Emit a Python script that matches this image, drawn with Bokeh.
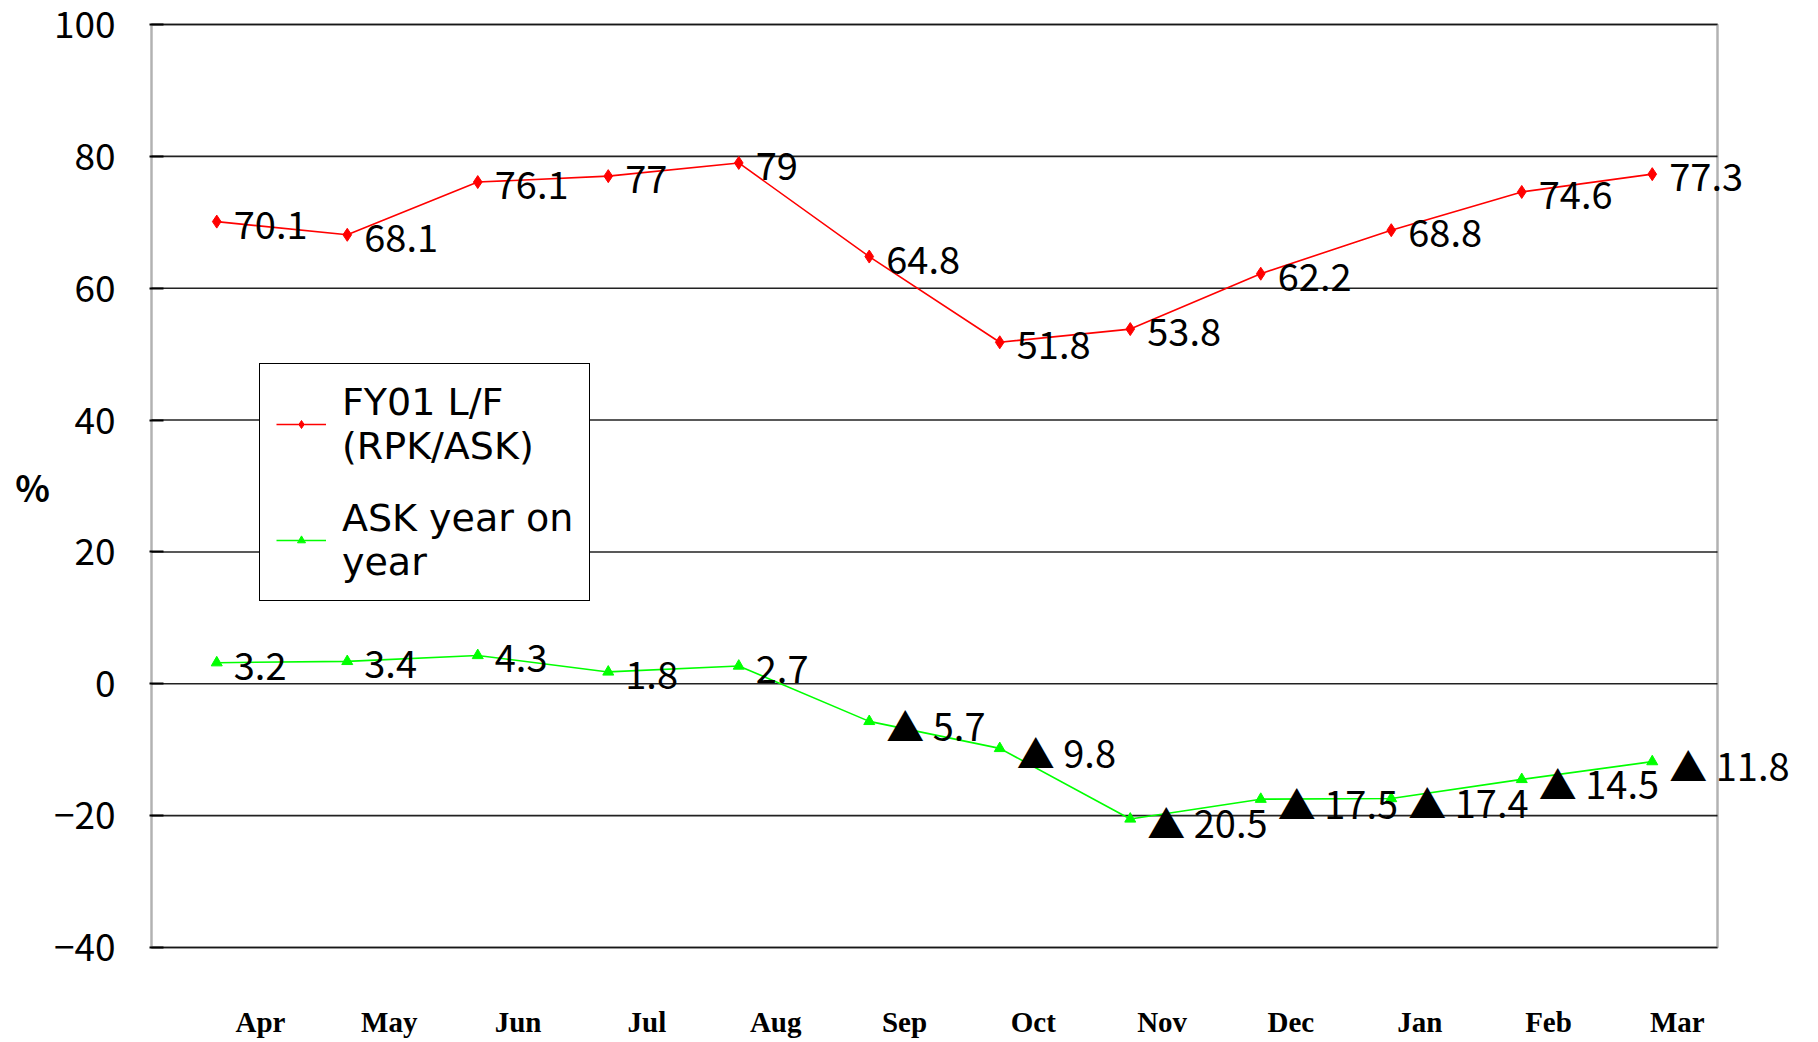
from bokeh.plotting import figure
from bokeh.models import (ColumnDataSource, Label, Legend, LegendItem, LinearAxis,
                          Range1d, FixedTicker, BoxAnnotation)
from bokeh.embed import file_html
from bokeh.resources import INLINE

# ---------------- data ----------------
months = ["Apr", "May", "Jun", "Jul", "Aug", "Sep", "Oct", "Nov", "Dec", "Jan", "Feb", "Mar"]
load_factor = [70.1, 68.1, 76.1, 77.0, 79.0, 64.8, 51.8, 53.8, 62.2, 68.8, 74.6, 77.3]
ask_yoy = [3.2, 3.4, 4.3, 1.8, 2.7, -5.7, -9.8, -20.5, -17.5, -17.4, -14.5, -11.8]
y_ticks = [-40, -20, 0, 20, 40, 60, 80, 100]
y_min, y_max = -40, 100

lf_labels = [f"{v:g}" for v in load_factor]
ask_labels = [f"{v:g}" if v >= 0 else f"▲ {abs(v):g}" for v in ask_yoy]

# ---------------- layout ----------------
JP = "Noto Sans CJK JP"
W, H = 1816, 1040
box_left, box_top, box_w, box_h = 151, 24, 1566, 929   # visible plot box (px)
edge = 2                                                # frame slack around the box
n = len(months)
cat_px = box_w / n                  # px per category
unit_px = box_h / (y_max - y_min)   # px per y unit
frame_left = box_left - edge
frame_top = box_top - edge
frame_bottom = box_top + box_h + edge
frame_w = W - frame_left

x_start = -edge / cat_px
x_end = x_start + frame_w / cat_px
ey = edge / unit_px

xs = [i + 0.5 for i in range(n)]     # category centres

p = figure(width=W, height=H, x_range=Range1d(x_start, x_end),
           y_range=Range1d(y_min - ey, y_max + ey), output_backend="svg",
           toolbar_location=None, min_border_left=frame_left, min_border_right=0,
           min_border_top=frame_top, min_border_bottom=H - frame_bottom)
p.background_fill_color = "white"
p.border_fill_color = "white"
p.outline_line_color = None
p.xgrid.visible = False
p.ygrid.visible = False
p.xaxis.visible = False

# grid lines inside the box
p.segment(x0=[0] * len(y_ticks), x1=[n] * len(y_ticks), y0=y_ticks, y1=y_ticks,
          line_color="#222222", line_width=1.6)
# the box
p.add_layout(BoxAnnotation(left=0, right=n, bottom=y_min, top=y_max,
                           fill_alpha=0, line_color="black", line_width=2.5))

ya = p.yaxis[0]
ya.ticker = FixedTicker(ticks=y_ticks)
ya.axis_line_color = None
ya.major_tick_in = 14
ya.major_tick_out = 0
ya.major_tick_line_width = 2
ya.minor_tick_line_color = None
ya.major_label_standoff = 34
ya.major_label_text_font = JP
ya.major_label_text_font_size = "37px"
ya.major_label_text_color = "black"
ya.axis_label = "%"
ya.axis_label_orientation = "horizontal"
ya.axis_label_text_font = JP
ya.axis_label_text_font_style = "bold"
ya.axis_label_text_font_size = "36px"
ya.axis_label_standoff = 1
ya.axis_label_text_color = "black"

# month axis (labels slightly compressed relative to the categories, as in the source)
label_first_px, label_pitch_px = 260, 128.8
m_start = 0.5 - (label_first_px - frame_left) / label_pitch_px
m_end = m_start + frame_w / label_pitch_px
p.extra_x_ranges = {"months": Range1d(m_start, m_end)}
xa = LinearAxis(x_range_name="months", ticker=FixedTicker(ticks=xs),
                major_label_overrides={x: m for x, m in zip(xs, months)})
xa.axis_line_color = None
xa.major_tick_line_color = None
xa.minor_tick_line_color = None
xa.major_label_standoff = 50
xa.major_label_text_font = "Liberation Serif"
xa.major_label_text_font_style = "bold"
xa.major_label_text_font_size = "29px"
xa.major_label_text_color = "black"
p.add_layout(xa, "below")

src_lf = ColumnDataSource(dict(x=xs, y=load_factor))
src_ask = ColumnDataSource(dict(x=xs, y=ask_yoy))

r_lf_line = p.line("x", "y", source=src_lf, line_color="#FF0000", line_width=1.6)
r_lf_pts = p.scatter("x", "y", source=src_lf, marker="diamond", size=13,
                     fill_color="#FF0000", line_color="#FF0000")
r_ask_line = p.line("x", "y", source=src_ask, line_color="#00FF00", line_width=1.6)
r_ask_pts = p.scatter("x", "y", source=src_ask, marker="triangle", size=11,
                      fill_color="#00FF00", line_color="#00FF00")

# data labels to the right of each point
for vals, texts in ((load_factor, lf_labels), (ask_yoy, ask_labels)):
    for x, v, t in zip(xs, vals, texts):
        p.add_layout(Label(x=x, y=v, text=t, x_offset=17, y_offset=-3,
                           text_font=JP, text_font_size="38px", text_color="black",
                           text_baseline="middle", text_align="left"))

legend = Legend(items=[
    LegendItem(label="FY01 L/F\n(RPK/ASK)", renderers=[r_lf_line, r_lf_pts]),
    LegendItem(label="ASK year on\nyear", renderers=[r_ask_line, r_ask_pts]),
], location=(box_left + 108 - frame_left, frame_bottom - 607), orientation="vertical")
legend.border_line_color = "black"
legend.border_line_width = 1.5
legend.border_line_alpha = 1
legend.background_fill_color = "white"
legend.background_fill_alpha = 1
legend.label_text_font = "DejaVu Sans"
legend.label_text_font_size = "38px"
legend.label_text_color = "black"
legend.glyph_width = 50
legend.glyph_height = 20
legend.label_standoff = 16
legend.spacing = 28
legend.padding = 16
legend.margin = 0
p.add_layout(legend)

open("out.html", "w").write(file_html(p, INLINE))
